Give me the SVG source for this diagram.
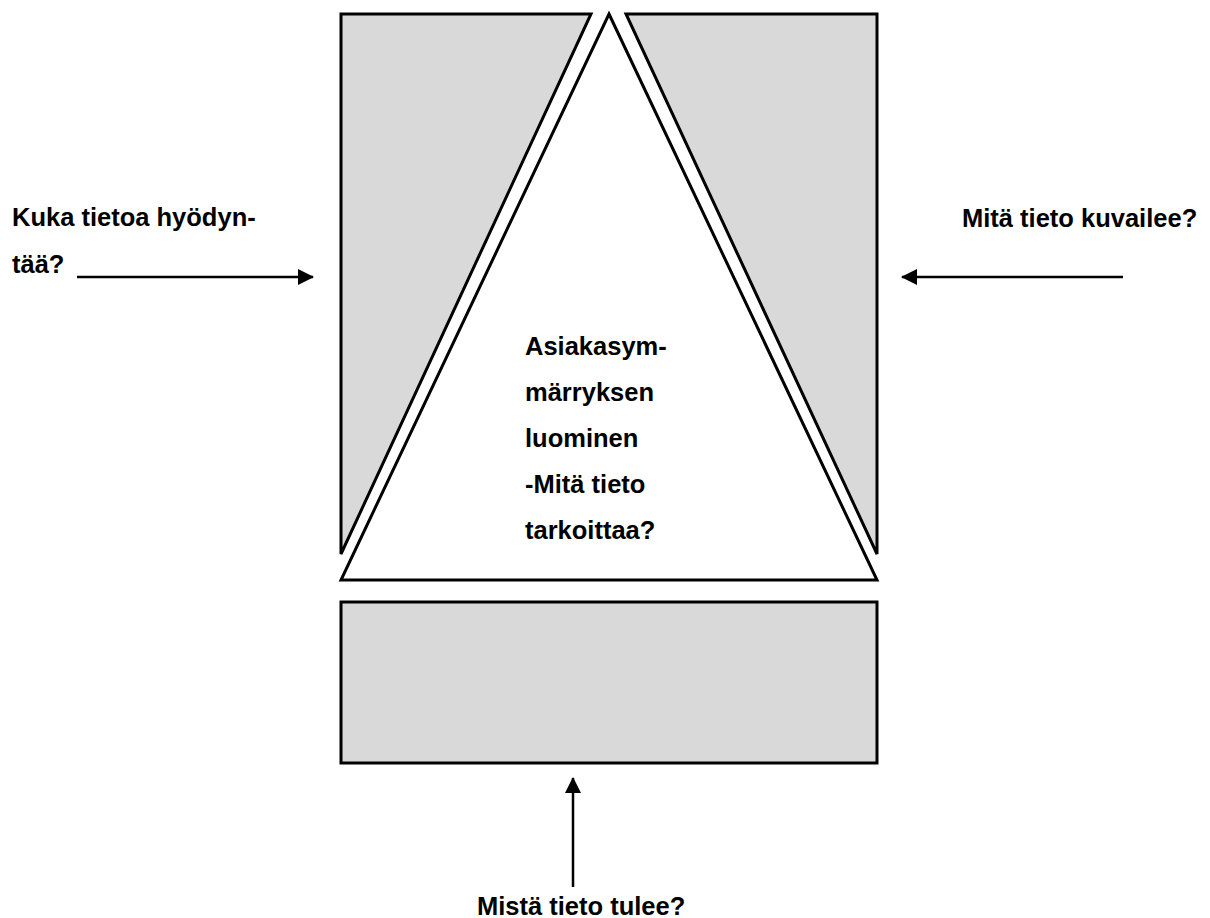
<svg xmlns="http://www.w3.org/2000/svg" width="1210" height="918" viewBox="0 0 1210 918">
  <defs>
    <style>
      .shape { stroke: #000; stroke-width: 3; stroke-linejoin: miter; }
      .gray { fill: #d9d9d9; }
      .white { fill: #fff; }
      .label { font-family: "Liberation Sans", Arial, sans-serif; font-weight: bold; font-size: 25.5px; fill: #000; }
      .conn { stroke: #000; stroke-width: 2.5; fill: none; marker-end: url(#arrow); }
    </style>
    <marker id="arrow" viewBox="0 0 16 16" refX="15" refY="8" markerWidth="16" markerHeight="16" markerUnits="userSpaceOnUse" orient="auto">
      <path d="M0,0 L16,8 L0,16 Z" fill="#000"/>
    </marker>
  </defs>
  <rect width="1210" height="918" fill="#fff"/>

  <g id="left-panel">
    <polygon class="shape gray" points="341,14 591,14 341,554"/>
  </g>
  <g id="right-panel">
    <polygon class="shape gray" points="626,14 877,14 877,554"/>
  </g>
  <g id="triangle">
    <polygon class="shape white" points="609,14 877,580 341,580"/>
    <text class="label" x="525" y="355">Asiakasym-</text>
    <text class="label" x="525" y="401">märryksen</text>
    <text class="label" x="525" y="447">luominen</text>
    <text class="label" x="525" y="493">-Mitä tieto</text>
    <text class="label" x="525" y="539">tarkoittaa?</text>
  </g>
  <g id="base">
    <rect class="shape gray" x="341" y="602" width="536" height="161"/>
  </g>

  <g id="label-left">
    <text class="label" x="12" y="226">Kuka tietoa hyödyn-</text>
    <text class="label" x="12" y="273">tää?</text>
  </g>
  <g id="label-right">
    <text class="label" x="962" y="227">Mitä tieto kuvailee?</text>
  </g>
  <g id="label-bottom">
    <text class="label" x="477" y="915">Mistä tieto tulee?</text>
  </g>

  <g id="connectors">
    <line class="conn" x1="77" y1="277" x2="313" y2="277"/>
    <line class="conn" x1="1123" y1="277" x2="902" y2="277"/>
    <line class="conn" x1="573" y1="887" x2="573" y2="778"/>
  </g>
</svg>
